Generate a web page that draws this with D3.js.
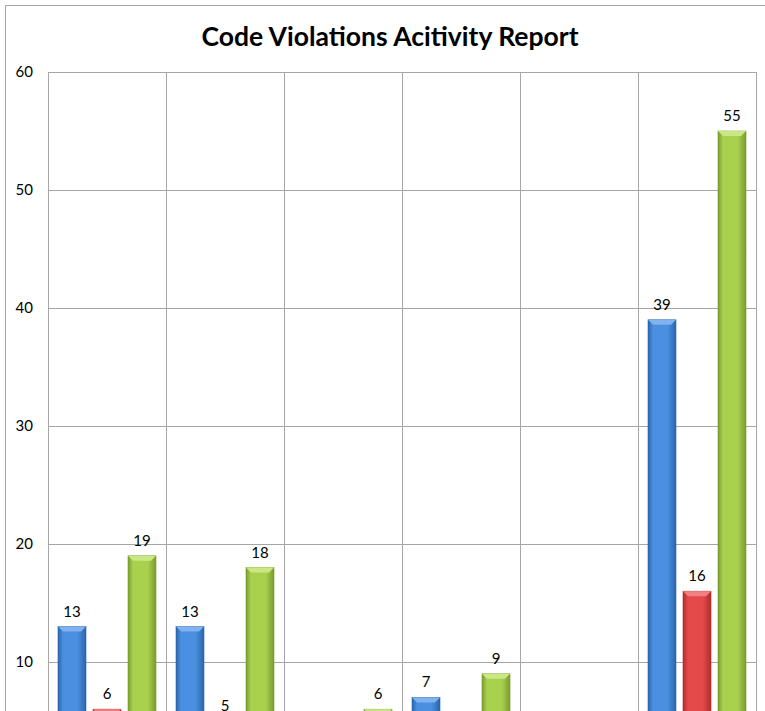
<!DOCTYPE html>
<html>
<head>
<meta charset="utf-8">
<script src="https://cdn.jsdelivr.net/npm/d3@7"></script>
<style>
	body { margin: 0; background: #fff; }
	svg { display: block; font-family: 'Lato', 'Open Sans', sans-serif; }
	.grid line { stroke: #a6a6a6; stroke-width: 1; shape-rendering: crispEdges; }
	.tick-label { font-size: 15px; fill: #000; }
	.value-label { font-size: 15px; fill: #000; text-anchor: middle; }
	.title { font-size: 26.5px; font-weight: bold; text-anchor: middle; }
</style>
</head>
<body>
<div id="chart"></div>
<script>
'use strict';

// Data (values below ~5 are hidden by the crop, estimated).
var categories = ['A', 'B', 'C', 'D', 'E', 'F'];
var seriesNames = ['Series 1', 'Series 2', 'Series 3'];
var series1 = [13, 13, 2, 7, 1, 39];
var series2 = [6, 5, 1, 3, 0, 16];
var series3 = [19, 18, 6, 9, 2, 55];
var yTicks = [10, 20, 30, 40, 50, 60];

var colours = [
	{edge: '#2b65ab', mid: '#4a8fe0', top: '#7fb2ee'},
	{edge: '#b02c2c', mid: '#e44a4a', top: '#f38080'},
	{edge: '#7a9c2e', mid: '#a9d14e', top: '#c9e884'}
];

var svgWidth = 765;
var svgHeight = 711;
var margin = {top: 72, left: 48, right: 9};

var svg = d3.select('#chart').append('svg')
	.attr('width', svgWidth)
	.attr('height', svgHeight);

// Outer chart border
svg.append('rect')
	.attr('x', 5.5)
	.attr('y', 5.5)
	.attr('width', 900)
	.attr('height', 900)
	.attr('fill', 'none')
	.attr('stroke', '#a6a6a6');

svg.append('text')
	.attr('class', 'title')
	.attr('x', 390)
	.attr('y', 46)
	.text('Code Violations Acitivity Report');

var x0 = d3.scaleBand()
	.domain(categories)
	.range([margin.left, svgWidth - margin.right]);

var x1 = d3.scaleBand()
	.domain(seriesNames)
	.range([10, x0.bandwidth() - 10])
	.paddingInner(0.2);

var y = d3.scaleLinear()
	.domain([0, 60])
	.range([780, margin.top]);

// Gradients
var defs = svg.append('defs');
colours.forEach(function(c, i) {
	var g = defs.append('linearGradient')
		.attr('id', 'grad' + i)
		.attr('x1', '0%').attr('x2', '100%')
		.attr('y1', '0%').attr('y2', '0%');
	g.append('stop').attr('offset', '0%').attr('stop-color', c.edge);
	g.append('stop').attr('offset', '18%').attr('stop-color', c.mid);
	g.append('stop').attr('offset', '70%').attr('stop-color', c.mid);
	g.append('stop').attr('offset', '100%').attr('stop-color', c.edge);
});

// Grid
var grid = svg.append('g').attr('class', 'grid');
grid.selectAll('.h').data(yTicks).enter().append('line')
	.attr('x1', margin.left)
	.attr('x2', svgWidth - margin.right)
	.attr('y1', function(d) { return Math.round(y(d)) + 0.5; })
	.attr('y2', function(d) { return Math.round(y(d)) + 0.5; });
grid.selectAll('.v').data(categories.concat(['end'])).enter().append('line')
	.attr('x1', function(d, i) { return Math.round(i < categories.length ? x0(d) : x0.range()[1]) + 0.5; })
	.attr('x2', function(d, i) { return Math.round(i < categories.length ? x0(d) : x0.range()[1]) + 0.5; })
	.attr('y1', y(60))
	.attr('y2', y(0));

// Y axis labels
svg.selectAll('.tick-label').data(yTicks).enter().append('text')
	.attr('class', 'tick-label')
	.attr('x', 33)
	.attr('y', function(d) { return y(d) + 5; })
	.attr('text-anchor', 'end')
	.text(function(d) { return d; });

// Bars
var rows = categories.map(function(c, i) {
	return [series1[i], series2[i], series3[i]].map(function(v, s) {
		return {cat: c, series: seriesNames[s], s: s, value: v};
	});
});

var groups = svg.selectAll('.group').data(rows).enter().append('g')
	.attr('class', 'group')
	.attr('transform', function(d) { return 'translate(' + x0(d[0].cat) + ',0)'; });

var bars = groups.selectAll('.bar').data(function(d) { return d; }).enter().append('g')
	.attr('class', 'bar');

var bw = x1.bandwidth();

bars.append('rect')
	.attr('x', function(d) { return x1(d.series); })
	.attr('y', function(d) { return y(d.value); })
	.attr('width', bw)
	.attr('height', function(d) { return y(0) - y(d.value); })
	.attr('fill', function(d) { return 'url(#grad' + d.s + ')'; })
	.attr('stroke', function(d) { return colours[d.s].edge; })
	.attr('stroke-width', 0.6);

// Bevelled top
bars.append('path')
	.attr('d', function(d) {
		var xl = x1(d.series);
		var t = y(d.value);
		var b = 5;
		return 'M' + xl + ',' + t + 'L' + (xl + bw) + ',' + t +
			'L' + (xl + bw - b) + ',' + (t + b) + 'L' + (xl + b) + ',' + (t + b) + 'Z';
	})
	.attr('fill', function(d) { return colours[d.s].top; });

// Value labels (labels that fall wholly below the visible area are skipped)
bars.filter(function(d) { return y(d.value) - 22 < svgHeight; })
	.append('text')
	.attr('class', 'value-label')
	.attr('x', function(d) { return x1(d.series) + bw / 2; })
	.attr('y', function(d) { return y(d.value) - 10; })
	.text(function(d) { return d.value; });
</script>
</body>
</html>
